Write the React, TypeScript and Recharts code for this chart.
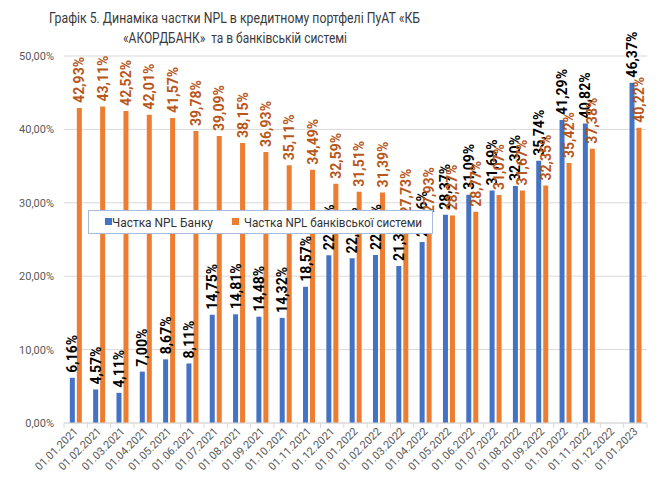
import React from 'react';
import { BarChart, Bar, XAxis, YAxis, CartesianGrid, LabelList } from 'recharts';

const categories = [
  '01.01.2021', '01.02.2021', '01.03.2021', '01.04.2021', '01.05.2021', '01.06.2021',
  '01.07.2021', '01.08.2021', '01.09.2021', '01.10.2021', '01.11.2021', '01.12.2021',
  '01.01.2022', '01.02.2022', '01.03.2022', '01.04.2022', '01.05.2022', '01.06.2022',
  '01.07.2022', '01.08.2022', '01.09.2022', '01.10.2022', '01.11.2022', '01.12.2022',
  '01.01.2023',
];
const bankNpl: (number | null)[] = [
  6.16, 4.57, 4.11, 7.0, 8.67, 8.11, 14.75, 14.81, 14.48, 14.32, 18.57, 22.85,
  22.43, 22.88, 21.39, 24.66, 28.37, 31.09, 31.69, 32.3, 35.74, 41.29, 40.82, null,
  46.37,
];
const systemNpl: (number | null)[] = [
  42.93, 43.11, 42.52, 42.01, 41.57, 39.78, 39.09, 38.15, 36.93, 35.11, 34.49, 32.59,
  31.51, 31.39, 27.73, 27.93, 28.27, 28.77, 31.07, 31.67, 32.35, 35.42, 37.38, null,
  40.22,
];
const yTicks = [0, 10, 20, 30, 40, 50];
const seriesNames = ['Частка NPL Банку', 'Частка NPL банківської системи'];
const titleLines = [
  'Графік 5. Динаміка частки NPL в кредитному портфелі ПуАТ «КБ',
  '«АКОРДБАНК»  та в банківській системі',
];

const data = categories.map((c, i) => ({ date: c, bank: bankNpl[i], system: systemNpl[i] }));

const FONT = 'Roboto, "Noto Sans", sans-serif';
const BLUE = '#4472C4';
const ORANGE = '#ED7D31';
const ORANGE_TEXT = '#B9561A';
const seriesColors = [BLUE, ORANGE];

const fmt = (v: number) => v.toFixed(2).replace('.', ',') + '%';

const makeLabel = (color: string) => (props: any) => {
  const { x, y, width, value } = props;
  if (value === null || value === undefined) return null;
  const cx = Number(x) + Number(width) / 2;
  const ty = Number(y) - 5;
  return (
    <text
      x={cx}
      y={ty}
      transform={`rotate(-90 ${cx} ${ty})`}
      textAnchor="start"
      dy="0.36em"
      fontSize={14}
      fontWeight={700}
      fill={color}
      fontFamily={FONT}
    >
      {fmt(Number(value))}
    </text>
  );
};

const XTick = (props: any) => {
  const { x, y, payload, index, width, visibleTicksCount } = props;
  const count = visibleTicksCount || categories.length;
  const band = (Number(width) || 583) / count;
  const lx = x - band / 2;
  const rx = x + band / 2;
  const tx = x + 3;
  const ty = y + 9;
  return (
    <g>
      <line x1={lx} y1={y} x2={lx} y2={y + 5} stroke="#D9D9D9" strokeWidth={1} />
      {index === count - 1 && <line x1={rx} y1={y} x2={rx} y2={y + 5} stroke="#D9D9D9" strokeWidth={1} />}
      <text
        x={tx}
        y={ty}
        transform={`rotate(-45 ${tx} ${ty})`}
        textAnchor="end"
        fontSize={11}
        fill="#595959"
        fontFamily={FONT}
      >
        {payload.value}
      </text>
    </g>
  );
};

const legendLayout = [
  { sq: 17, tx: 24, len: 101 },
  { sq: 144, tx: 156, len: 178 },
];

export default function App() {
  return (
    <div style={{ position: 'absolute', left: 0, top: 0, width: 665, height: 486, background: '#fff' }}>
      <BarChart
        width={665}
        height={486}
        data={data}
        margin={{ top: 56, right: 18, left: 0, bottom: 0 }}
        barCategoryGap="25%"
        barGap={2}
      >
        <CartesianGrid vertical={false} stroke="#D9D9D9" />
        <XAxis
          dataKey="date"
          interval={0}
          height={63}
          tickLine={false}
          tickSize={0}
          tickMargin={0}
          axisLine={{ stroke: '#D9D9D9' }}
          tick={<XTick />}
        />
        <YAxis
          width={64}
          domain={[0, 50]}
          ticks={yTicks}
          axisLine={false}
          tickLine={false}
          tickSize={0}
          tickMargin={10}
          tickFormatter={(v: number) => fmt(v)}
          tick={{ fontSize: 11, fill: '#595959', fontFamily: FONT }}
        />
        <Bar dataKey="bank" name={seriesNames[0]} fill={BLUE} isAnimationActive={false}>
          <LabelList dataKey="bank" content={makeLabel('#000')} />
        </Bar>
        <Bar dataKey="system" name={seriesNames[1]} fill={ORANGE} isAnimationActive={false}>
          <LabelList dataKey="system" content={makeLabel(ORANGE_TEXT)} />
        </Bar>
      </BarChart>
      <svg
        width={345}
        height={24}
        style={{ position: 'absolute', left: 88, top: 210 }}
      >
        <rect x={0.5} y={0.5} width={344} height={23} fill="#fff" stroke="#A9BBDB" strokeWidth={1} />
        {seriesNames.map((n, i) => (
          <g key={n}>
            <rect x={legendLayout[i].sq} y={8} width={7} height={7} fill={seriesColors[i]} />
            <text
              x={legendLayout[i].tx}
              y={16.5}
              fontSize={13}
              fill="#333"
              fontFamily={FONT}
              textLength={legendLayout[i].len}
              lengthAdjust="spacingAndGlyphs"
            >
              {n}
            </text>
          </g>
        ))}
      </svg>
      <svg
        width={665}
        height={50}
        style={{ position: 'absolute', left: 0, top: 0, pointerEvents: 'none' }}
      >
        <text x={49} y={23} fontSize={15.5} fill="#3a3a3a" fontFamily={FONT} textLength={371} lengthAdjust="spacingAndGlyphs">
          {titleLines[0]}
        </text>
        <text x={123} y={43} fontSize={15.5} fill="#3a3a3a" fontFamily={FONT} textLength={224} lengthAdjust="spacingAndGlyphs" xmlSpace="preserve">
          {titleLines[1]}
        </text>
      </svg>
    </div>
  );
}
